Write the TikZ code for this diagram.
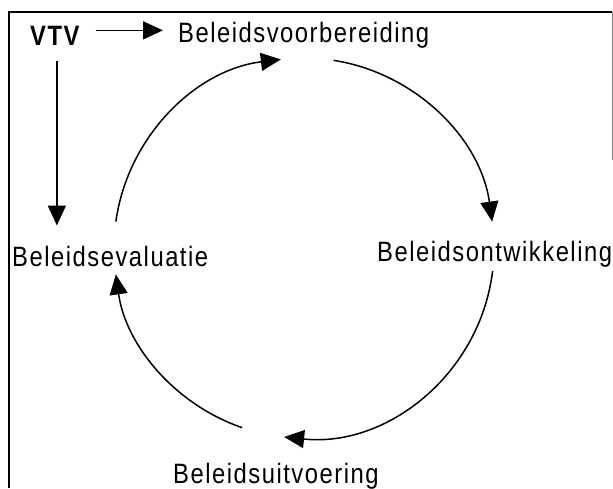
\documentclass[tikz,border=0pt]{standalone}
\usepackage{fontspec}
\setmainfont[FakeStretch=0.85,LetterSpace=5.4]{Liberation Sans}
\usetikzlibrary{arrows.meta}

\begin{document}
\begin{tikzpicture}[x=1pt,y=1pt,
    lijn/.style={line width=1.5pt},
    pijl/.style={lijn,-{Triangle[length=20pt,width=18pt]}},
    fase/.style={inner sep=0pt,anchor=base west,font=\fontsize{28}{32}\selectfont}]
      \useasboundingbox (0,0) rectangle (613,488);
      % kader
      \draw[lijn] (9,0) -- (9,476) -- (612,476);
      \draw[gray,thin] (612,476) -- (612,328);
      \node[fase,font=\fontsize{28}{32}\selectfont\bfseries] (vtv) at (30,442) {VTV};
      \node[fase] (voor) at (178,445) {Beleidsvoorbereiding};
      \node[fase] (ontw) at (377,227) {Beleidsontwikkeling};
      \node[fase] (uitv) at (173,5) {Beleidsuitvoering};
      \node[fase] (eval) at (12,222) {Beleidsevaluatie};
      \draw[pijl,shorten <=16pt,shorten >=15pt] ([yshift=6pt]vtv.east) -- ([yshift=6pt]vtv.east -| voor.west);
      \draw[pijl,shorten <=15pt,shorten >=20pt] ([xshift=2pt]vtv.south) -- ([xshift=2pt]vtv.south |- eval.north);
      % beleidscyclus, straal 190
      \coordinate (kring) at (304,240);
      \draw[pijl] ([shift={(172:190)}]kring) arc[start angle=172,end angle=97,radius=190];
      \draw[pijl] ([shift={(81:190)}]kring) arc[start angle=81,end angle=8,radius=190];
      \draw[pijl] ([shift={(-7:190)}]kring) arc[start angle=-7,end angle=-96,radius=190];
      \draw[pijl] ([shift={(-109:190)}]kring) arc[start angle=-109,end angle=-172,radius=190];
    \end{tikzpicture}
\end{document}
